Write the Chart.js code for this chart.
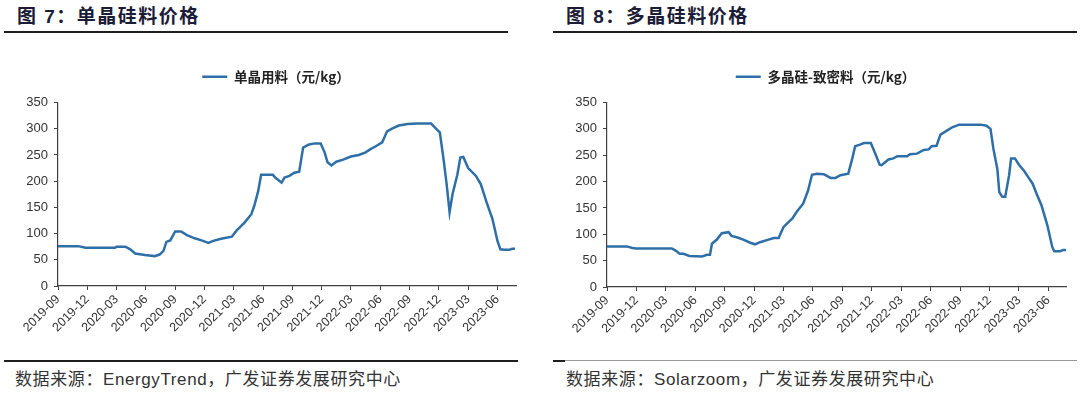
<!DOCTYPE html>
<html>
<head>
<meta charset="utf-8">
<script src="https://cdn.jsdelivr.net/npm/chart.js@4"></script>
<style>
  body { margin: 0; width: 1080px; height: 393px; background: #fff; position: relative; overflow: hidden;
         font-family: "Liberation Sans", "Noto Sans CJK SC", sans-serif; }
  .title { position: absolute; top: 1px; font-size: 19px; letter-spacing: 1.5px; font-weight: bold; color: #1c1c36;
           font-family: "Liberation Sans", "Noto Sans CJK SC", sans-serif; white-space: nowrap; }
  .rule { position: absolute; height: 2px; background: #1f1f1f; }
  .src { position: absolute; top: 365px; font-size: 17px; letter-spacing: 0.6px; color: #333; white-space: nowrap; }
  .box { position: absolute; top: 60px; width: 540px; height: 300px; }
</style>
</head>
<body>
<div class="title" style="left:17px">图 7：单晶硅料价格</div>
<div class="rule" style="left:4px; top:31px; width:504px"></div>
<div class="title" style="left:566px">图 8：多晶硅料价格</div>
<div class="rule" style="left:553px; top:31px; width:524px"></div>

<div class="box" style="left:0"><canvas id="mono" width="540" height="300"></canvas></div>
<div class="box" style="left:545px"><canvas id="poly" width="540" height="300"></canvas></div>

<div class="rule" style="left:4px; top:360px; width:514px; height:1.5px"></div>
<div class="rule" style="left:553px; top:360px; width:12px; height:1.5px"></div>
<div class="rule" style="left:565px; top:360px; width:512px; height:1px; background:#999"></div>
<div class="src" style="left:15px">数据来源：EnergyTrend，广发证券发展研究中心</div>
<div class="src" style="left:566px">数据来源：Solarzoom，广发证券发展研究中心</div>

<script>
// x tick labels (quarterly)
const quarterLabels = ['2019-09', '2019-12', '2020-03', '2020-06', '2020-09', '2020-12', '2021-03', '2021-06',
  '2021-09', '2021-12', '2022-03', '2022-06', '2022-09', '2022-12', '2023-03', '2023-06'];

// 单晶用料 (元/kg)
const monoDates = ['2019-09-01', '2019-11-04', '2019-11-25', '2020-02-26', '2020-03-01', '2020-03-28', '2020-04-13',
  '2020-04-28', '2020-05-28', '2020-06-28', '2020-07-13', '2020-07-25', '2020-08-04', '2020-08-16', '2020-09-01',
  '2020-09-19', '2020-10-07', '2020-11-01', '2020-11-22', '2020-12-13', '2020-12-28', '2021-01-22', '2021-02-25',
  '2021-03-10', '2021-04-04', '2021-04-25', '2021-05-04', '2021-05-16', '2021-05-25', '2021-07-01', '2021-07-10',
  '2021-07-28', '2021-08-07', '2021-08-22', '2021-09-07', '2021-09-22', '2021-10-04', '2021-10-22', '2021-11-10',
  '2021-11-28', '2021-12-10', '2021-12-19', '2022-01-01', '2022-01-16', '2022-02-07', '2022-03-01', '2022-03-25',
  '2022-04-16', '2022-05-01', '2022-05-16', '2022-06-07', '2022-06-22', '2022-07-07', '2022-07-28', '2022-08-25',
  '2022-09-25', '2022-11-07', '2022-11-22', '2022-12-04', '2022-12-16', '2022-12-25', '2023-01-04', '2023-01-13',
  '2023-01-28', '2023-02-07', '2023-02-16', '2023-03-01', '2023-03-25', '2023-04-10', '2023-04-28', '2023-05-16',
  '2023-06-01', '2023-06-10', '2023-06-22', '2023-07-07', '2023-07-16', '2023-07-25'];
const monoPrices = [76, 76, 73, 73, 75, 75, 70,
  62, 59, 57, 60, 67, 84, 87, 104,
  104, 97, 91, 87, 82, 86, 90, 94,
  106, 121, 137, 153, 181, 212, 212, 206,
  197, 207, 210, 216, 218, 264, 270, 272,
  272, 255, 236, 230, 237, 241, 247, 250,
  255, 261, 266, 274, 295, 300, 306, 309,
  310, 310, 300, 293, 239, 194, 141, 175,
  213, 245, 246, 225, 210, 194, 159, 127,
  86, 70, 69, 69, 71, 71];

// 多晶硅-致密料 (元/kg)
const polyDates = ['2019-09-01', '2019-11-01', '2019-11-19', '2019-12-01', '2020-03-19', '2020-04-01', '2020-04-13',
  '2020-04-25', '2020-05-13', '2020-06-22', '2020-07-07', '2020-07-16', '2020-07-22', '2020-08-07', '2020-08-22',
  '2020-09-13', '2020-09-22', '2020-10-10', '2020-10-28', '2020-11-19', '2020-12-04', '2020-12-19', '2021-01-10',
  '2021-02-01', '2021-02-16', '2021-03-01', '2021-03-28', '2021-04-13', '2021-05-01', '2021-05-16', '2021-05-28',
  '2021-06-13', '2021-07-04', '2021-07-25', '2021-08-10', '2021-08-25', '2021-09-19', '2021-10-01', '2021-10-10',
  '2021-10-25', '2021-11-07', '2021-11-28', '2021-12-13', '2021-12-25', '2022-01-01', '2022-01-22', '2022-02-07',
  '2022-02-19', '2022-03-19', '2022-03-28', '2022-04-19', '2022-05-10', '2022-05-25', '2022-06-04', '2022-06-19',
  '2022-07-01', '2022-07-22', '2022-08-07', '2022-08-28', '2022-11-04', '2022-11-22', '2022-12-04', '2022-12-13',
  '2022-12-25', '2023-01-01', '2023-01-10', '2023-01-19', '2023-02-01', '2023-02-07', '2023-02-19', '2023-03-01',
  '2023-03-16', '2023-04-01', '2023-04-13', '2023-04-25', '2023-05-10', '2023-05-28', '2023-06-13', '2023-06-19',
  '2023-07-07', '2023-07-16', '2023-07-25'];
const polyPrices = [77, 77, 74, 73, 73, 69, 63,
  63, 59, 58, 61, 61, 82, 90, 102,
  104, 97, 94, 90, 84, 81, 85, 89,
  93, 93, 114, 130, 144, 158, 183, 213,
  215, 214, 207, 207, 212, 215, 243, 267,
  270, 273, 273, 251, 232, 231, 242, 244,
  248, 248, 252, 253, 260, 261, 267, 268,
  289, 297, 303, 308, 308, 306, 300, 262,
  224, 180, 171, 171, 212, 244, 244, 232,
  221, 207, 196, 177, 155, 117, 76, 68,
  68, 70, 70];

const blue = '#2E6FA7';
const axisColor = '#404040';

// months since 2019-09
function monthIndex(s) {
  const [y, m, d] = s.split('-').map(Number);
  return (y - 2019) * 12 + (m - 9) + ((d || 1) - 1) / 30;
}

// extra space under the legend, and nudge it sideways
const legendGap = {
  id: 'legendGap',
  afterInit(chart, args, opts) {
    const fit = chart.legend.fit;
    chart.legend.fit = function () {
      fit.call(this);
      this.height += opts.gap;
    };
  },
  afterLayout(chart, args, opts) {
    chart.legend.left += opts.shift;
    chart.legend.right += opts.shift;
  }
};

function makeChart(id, label, dates, prices, area) {
  return new Chart(document.getElementById(id), {
    type: 'line',
    data: {
      datasets: [{
        label: label,
        data: dates.map((d, i) => ({ x: monthIndex(d), y: prices[i] })),
        borderColor: blue,
        backgroundColor: blue,
        borderWidth: 2.5,
        pointRadius: 0,
        tension: 0
      }]
    },
    plugins: [legendGap],
    options: {
      responsive: false,
      animation: false,
      layout: { padding: { left: 0, right: area.right, top: 0, bottom: 0 } },
      plugins: {
        legendGap: { gap: 9, shift: area.shift },
        legend: {
          labels: {
            boxWidth: 25,
            boxHeight: 2.5,
            padding: 10,
            color: '#222',
            font: { size: 13.5, weight: 'bold', family: '"Noto Sans CJK SC", "Liberation Sans"' },
            generateLabels: chart => Chart.defaults.plugins.legend.labels.generateLabels(chart)
              .map(l => Object.assign(l, { lineWidth: 0, fillStyle: blue }))
          }
        },
        tooltip: { enabled: false }
      },
      scales: {
        x: {
          type: 'linear',
          min: 0,
          max: area.xmax,
          afterBuildTicks: s => { s.ticks = quarterLabels.map(l => ({ value: monthIndex(l) })); },
          afterFit: s => { s.height = area.xh; },
          ticks: {
            autoSkip: false,
            minRotation: 45,
            maxRotation: 45,
            padding: 2,
            color: '#333',
            font: { size: 12.5, family: '"Liberation Sans"' },
            callback: (v, i) => quarterLabels[i]
          },
          grid: { drawOnChartArea: false, tickLength: 4, color: axisColor },
          border: { color: axisColor, width: 1.2 }
        },
        y: {
          min: 0,
          max: 350,
          afterFit: s => { s.width = area.yw; },
          ticks: { stepSize: 50, padding: 6, color: '#333', font: { size: 13, family: '"Liberation Sans"' } },
          grid: { drawOnChartArea: false, tickLength: 4, color: axisColor },
          border: { color: axisColor, width: 1.2 }
        }
      }
    }
  });
}

makeChart('mono', '单晶用料（元/kg）', monoDates, monoPrices, { yw: 58, right: 24, xh: 74, xmax: 46.9, shift: 18 });
makeChart('poly', '多晶硅-致密料（元/kg）', polyDates, polyPrices, { yw: 62, right: 19, xh: 73, xmax: 46.8, shift: 20 });
</script>
</body>
</html>
